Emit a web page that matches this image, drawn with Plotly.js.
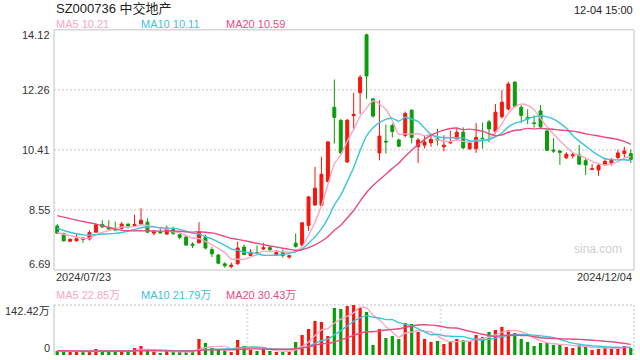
<!DOCTYPE html>
<html>
<head>
<meta charset="utf-8">
<script src="https://cdn.plot.ly/plotly-3.0.1.min.js"></script>
<style>html,body{margin:0;padding:0;background:#fff;}#chart{width:640px;height:360px;}</style>
</head>
<body>
<div id="chart"></div>
<script>
// ---- data ----
const dates = ["2024/07/23", "2024/12/04"];
const open  = [8.05,7.82,7.58,7.59,7.68,7.65,7.86,8.10,8.00,7.96, 7.98,8.11,8.06,8.11,8.17,7.83,7.87,7.80,7.94,7.78,
               7.71,7.49,7.53,7.70,7.32,7.15,6.88,6.80,6.88,7.40, 7.14,7.22,7.34,7.38,7.17,7.24,7.09,7.52,7.46,8.07,
               8.70,8.69,9.43,11.72,11.32,10.03,11.46,12.17,13.96,11.98, 10.31,10.67,11.16,10.71,10.85,11.63,10.50,10.55,10.62,10.75,
               10.50,10.62,10.75,10.95,10.44,10.44,10.76,11.27,10.97,11.43, 11.67,12.50,11.72,11.41,11.24,11.61,10.99,10.40,10.37,10.16,
               10.22,10.25,10.07,9.80,9.78,9.94,9.99,10.17,10.29,10.29];
const high  = [8.11,7.84,7.67,7.80,7.71,7.92,8.13,8.23,8.23,8.19, 8.17,8.13,8.40,8.60,8.29,7.93,8.01,8.06,8.03,7.82,
               7.76,7.55,8.17,7.78,7.40,7.19,6.93,6.92,7.57,7.48, 7.34,7.45,7.52,7.43,7.31,7.32,7.16,7.82,8.17,8.98,
               9.88,10.19,10.68,12.58,11.35,11.36,12.17,12.72,14.00,12.00, 11.94,11.19,11.22,10.75,11.59,11.66,10.77,10.85,10.90,11.06,
               10.86,11.00,11.07,11.10,10.70,11.23,11.25,11.33,11.82,12.25, 12.51,12.52,11.79,11.66,11.47,11.79,11.03,10.77,10.40,10.33,
               10.31,10.56,10.13,9.96,9.99,10.11,10.15,10.41,10.50,10.41];
const low   = [7.81,7.58,7.57,7.58,7.53,7.60,7.85,8.00,7.93,7.91, 7.94,7.97,8.04,8.09,7.83,7.76,7.83,7.78,7.78,7.64,
               7.45,7.37,7.51,7.33,7.09,6.87,6.76,6.74,6.86,7.15, 7.12,7.16,7.31,7.26,7.12,7.07,7.04,7.38,7.43,7.90,
               8.68,8.66,9.40,10.60,10.28,10.00,11.02,11.51,11.98,11.40, 10.08,10.29,10.79,10.48,10.79,10.60,10.00,10.45,10.50,10.53,
               10.36,10.58,10.70,10.43,10.40,10.31,10.44,10.64,10.91,11.37, 11.62,11.74,11.24,11.20,11.09,11.06,10.37,10.31,9.94,10.12,
               10.14,9.94,9.63,9.78,9.60,9.92,9.92,10.12,10.17,10.00];
const close = [7.83,7.59,7.64,7.66,7.64,7.85,8.09,8.02,7.96,7.93, 8.11,8.05,8.10,8.23,7.86,7.87,7.84,7.96,7.82,7.70,
               7.46,7.45,7.88,7.37,7.19,6.90,6.82,6.84,7.37,7.17, 7.24,7.20,7.38,7.32,7.23,7.14,7.13,7.42,8.15,8.95,
               9.22,9.65,10.65,11.41,10.31,11.32,11.50,12.65,12.69,11.45, 10.83,10.65,10.97,10.52,11.53,10.79,10.71,10.65,10.73,10.71,
               10.55,10.65,10.95,10.47,10.62,10.79,10.74,11.05,11.57,11.88, 12.44,11.74,11.47,11.36,11.22,11.12,10.39,10.37,10.33,10.27,
               10.25,9.96,9.94,9.82,9.92,10.05,10.11,10.31,10.37,10.11];
// volume in 万 shares
const volume = [11.4,9.5,9.5,9.5,9.5,9.5,17.1,11.4,11.4,11.4, 11.4,9.5,19.9,25.6,11.4,9.5,5.7,11.4,9.5,8.5,
                8.5,8.5,45.6,34.2,19.9,14.2,12.3,8.5,42.7,25.6, 14.2,11.4,17.1,11.4,8.5,8.5,8.5,37,57,74,
                96.8,94,54,133.9,131,139.6,142.42,133.9,122.5,28.5, 74,48.4,54,45.6,91,88.3,65.5,45.6,37,39.9,
                31.3,37,45.6,42.7,39.9,57,51.3,65.5,71.2,79.8, 71.2,62.7,45.6,37,25.6,34.2,34.2,28.5,28.5,22.8,
                19.9,28.5,22.8,14.2,17.1,19.9,22.8,22.8,25.6,19.9];
// closes / volumes before the window (estimated from where the MA lines start)
const priorCloses = [8.50,8.55,8.60,8.55,8.60,8.90,9.00,9.05,8.95,8.90,8.30,8.20,8.10,8.00,7.95,7.90,7.85,7.90,7.80];
const priorVolumes = [13,12,14,11,12,13,15,12,11,12,13,12,14,11,12,10,12,11,12];
const priceTicks = [14.12, 12.26, 10.41, 8.55, 6.69];
const volTicks = [142.42, 0];
const volTickText = ["142.42万", "0"];
const maPeriods = [5, 10, 20];
const maLabels = ["MA5 10.21", "MA10 10.11", "MA20 10.59"];
const volMaLabels = ["MA5 22.85万", "MA10 21.79万", "MA20 30.43万"];
const titleText = "SZ000736 中交地产";
const timeText = "12-04 15:00";

// ---- styles ----
const RED = "#f3170d", GREEN = "#0a9d0a";
const MA_COLORS = ["#f9a6c6", "#3cc3df", "#ea4a80"];
const FONT = "Liberation Sans, Arial, Noto Sans CJK SC, sans-serif";
const X0 = 54/640, X1 = 634/640;
const MAIN = [1-270/360, 1-29.7/360];
const VOL = [1-355/360, 1-305/360];

const idx = close.map((_, i) => i);
function movAvg(prior, vals, n) {
  const all = prior.concat(vals), off = prior.length;
  return vals.map((_, i) => {
    let s = 0; for (let k = off + i - n + 1; k <= off + i; k++) s += all[k];
    return s / n;
  });
}

const traces = [];
traces.push({
  type: "candlestick", x: idx, open, high, low, close, xaxis: "x", yaxis: "y",
  increasing: {line: {color: RED, width: 1}, fillcolor: RED},
  decreasing: {line: {color: GREEN, width: 1}, fillcolor: GREEN},
  whiskerwidth: 0, hoverinfo: "skip", showlegend: false
});
maPeriods.forEach((n, j) => traces.push({
  type: "scatter", mode: "lines", x: idx, y: movAvg(priorCloses, close, n),
  xaxis: "x", yaxis: "y", line: {color: MA_COLORS[j], width: 1.4, shape: "spline", smoothing: 0.5},
  hoverinfo: "skip", showlegend: false
}));
traces.push({
  type: "bar", x: idx, y: volume, xaxis: "x2", yaxis: "y2", width: 0.5,
  marker: {color: close.map((c, i) => c >= open[i] ? RED : GREEN), line: {width: 0}},
  hoverinfo: "skip", showlegend: false
});
maPeriods.forEach((n, j) => traces.push({
  type: "scatter", mode: "lines", x: idx, y: movAvg(priorVolumes, volume, n),
  xaxis: "x2", yaxis: "y2", line: {color: MA_COLORS[j], width: 1.4, shape: "spline", smoothing: 0.5},
  hoverinfo: "skip", showlegend: false
}));

const hidden = {showgrid: false, zeroline: false, showticklabels: false, showline: false, ticks: "", fixedrange: true};
const shapes = [];
const GRID = {color: "#dedede", width: 2, dash: "2px,2px"};
priceTicks.slice(1, -1).forEach(v => shapes.push({type: "line", xref: "paper", yref: "y", x0: X0, x1: X1, y0: v, y1: v, line: GRID, layer: "below"}));
const BORDER = {color: "#d6d6d6", width: 1.5};
shapes.push({type: "line", xref: "paper", yref: "paper", x0: X0, x1: X1, y0: MAIN[1], y1: MAIN[1], line: BORDER});
shapes.push({type: "line", xref: "paper", yref: "paper", x0: X0, x1: X1, y0: MAIN[0], y1: MAIN[0], line: BORDER});
shapes.push({type: "line", xref: "paper", yref: "paper", x0: X0, x1: X0, y0: MAIN[0], y1: MAIN[1], line: BORDER});
shapes.push({type: "line", xref: "paper", yref: "paper", x0: X1, x1: X1, y0: MAIN[0], y1: MAIN[1], line: BORDER});
// volume panel frame
shapes.push({type: "line", xref: "paper", yref: "paper", x0: X0, x1: X1, y0: VOL[1], y1: VOL[1], line: GRID, layer: "below"});
shapes.push({type: "line", xref: "paper", yref: "paper", x0: X0, x1: X0, y0: VOL[0], y1: VOL[1], line: BORDER});
[1/3, 2/3, 1].forEach(f => shapes.push({type: "line", xref: "paper", yref: "paper",
  x0: X0 + (X1 - X0) * f, x1: X0 + (X1 - X0) * f, y0: VOL[0], y1: VOL[1], line: GRID, layer: "below"}));

const ann = [];
const tickFont = {family: FONT, size: 11, color: "#333"};
priceTicks.forEach((v, i) => ann.push({xref: "paper", yref: "y", x: X0, y: v, xanchor: "right", yanchor: "middle",
  xshift: -2, yshift: i === 0 ? -5.5 : (i === priceTicks.length - 1 ? 6 : 0), text: v.toFixed(2), showarrow: false, font: tickFont}));
volTicks.forEach((v, i) => ann.push({xref: "paper", yref: "y2", x: X0, y: v, xanchor: "right", yanchor: "middle",
  xshift: -2, yshift: i === 0 ? -6 : 7, text: volTickText[i], showarrow: false, font: tickFont}));
ann.push({xref: "paper", yref: "paper", x: 54/640, y: 1 - 8/360, xanchor: "left", yanchor: "middle", text: titleText,
  showarrow: false, font: {family: FONT, size: 13, color: "#222"}});
ann.push({xref: "paper", yref: "paper", x: 635/640, y: 1 - 10/360, xanchor: "right", yanchor: "middle", text: timeText,
  showarrow: false, font: {family: FONT, size: 11, color: "#222"}});
const labX = [54/640, 139/640, 224/640];
maLabels.forEach((t, j) => ann.push({xref: "paper", yref: "paper", x: labX[j], y: 1 - 24/360, xanchor: "left", yanchor: "middle",
  text: t, showarrow: false, font: {family: FONT, size: 11, color: MA_COLORS[j]}}));
volMaLabels.forEach((t, j) => ann.push({xref: "paper", yref: "paper", x: labX[j], y: 1 - 295/360, xanchor: "left", yanchor: "middle",
  text: t, showarrow: false, font: {family: FONT, size: 11, color: MA_COLORS[j]}}));
ann.push({xref: "paper", yref: "paper", x: X0, y: 1 - 277/360, xanchor: "left", yanchor: "middle", text: dates[0],
  showarrow: false, font: tickFont});
ann.push({xref: "paper", yref: "paper", x: X1, y: 1 - 277/360, xanchor: "right", yanchor: "middle", text: dates[1],
  showarrow: false, font: tickFont});
ann.push({xref: "paper", yref: "paper", x: 624/640, y: 1 - 249/360, xanchor: "right", yanchor: "middle", text: "sina.com",
  showarrow: false, font: {family: FONT, size: 12, color: "#cfcfcf"}});

const layout = {
  width: 640, height: 360, margin: {l: 0, r: 0, t: 0, b: 0},
  paper_bgcolor: "#fff", plot_bgcolor: "rgba(0,0,0,0)", showlegend: false,
  boxgap: 0.35,
  xaxis: Object.assign({domain: [X0, X1], range: [-0.5, close.length - 0.5], anchor: "y", rangeslider: {visible: false}}, hidden),
  xaxis2: Object.assign({domain: [X0, X1], range: [-0.5, close.length - 0.5], anchor: "y2", rangeslider: {visible: false}}, hidden),
  yaxis: Object.assign({domain: MAIN, range: [priceTicks[priceTicks.length - 1], priceTicks[0]], anchor: "x"}, hidden),
  yaxis2: Object.assign({domain: VOL, range: [0, volTicks[0]], anchor: "x2"}, hidden),
  shapes, annotations: ann, bargap: 0.5
};
Plotly.newPlot("chart", traces, layout, {staticPlot: true, displayModeBar: false});
</script>
</body>
</html>
